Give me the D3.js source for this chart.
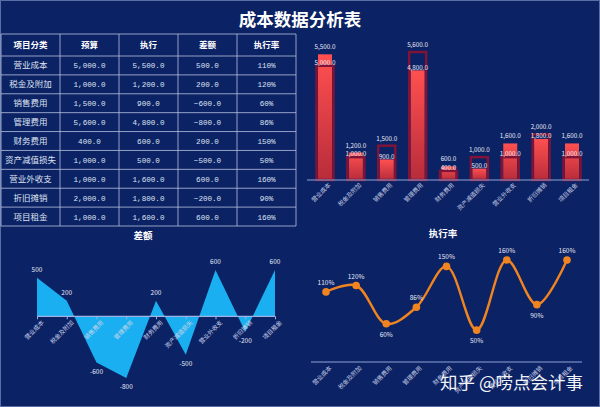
<!DOCTYPE html>
<html><head><meta charset="utf-8">
<script src="https://cdn.jsdelivr.net/npm/d3@7"></script>
<style>body{margin:0;background:#0b2264;} svg{display:block}</style>
</head><body>
<svg id="c" width="600" height="407"></svg>
<script>
const categories = ["营业成本","税金及附加","销售费用","管理费用","财务费用","资产减值损失","营业外收支","折旧摊销","项目租金"];
const budget = [5000,1000,1500,5600,400,1000,1000,2000,1000];
const actual = [5500,1200,900,4800,600,500,1600,1800,1600];
const diff = [500,200,-600,-800,200,-500,600,-200,600];
const rate = [110,120,60,86,150,50,160,90,160];
const headers = ["项目分类","预算","执行","差额","执行率"];
const titleMain = "成本数据分析表";
const titleDiff = "差额";
const titleRate = "执行率";
const watermark = "知乎 @唠点会计事";

const svg = d3.select("#c");
const CJK = "'Noto Sans CJK SC','Noto Sans',sans-serif";
const MONO = "'Liberation Mono','DejaVu Sans Mono',monospace";
const lineCol = "#b9c2de";

svg.append("rect").attr("width",600).attr("height",407).attr("fill","#0b2264");
svg.append("rect").attr("x",0.5).attr("y",0.5).attr("width",599).attr("height",406)
  .attr("fill","none").attr("stroke","#5a6ea6").attr("stroke-width",1);

// Title
svg.append("text").attr("x",300).attr("y",26).attr("text-anchor","middle")
  .attr("fill","#ffffff").attr("font-family",CJK).attr("font-size",17.5).attr("font-weight",600)
  .text(titleMain);

// ---------- Table ----------
const fmt1 = d3.format(",.1f");
const rows = categories.map((c,i)=>[c, fmt1(budget[i]), fmt1(actual[i]), fmt1(diff[i]), rate[i]+"%"]);
const colX = d3.scaleBand().domain(d3.range(headers.length)).range([1,296]);
const rowY = d3.scaleBand().domain(d3.range(rows.length)).range([56,226]);
const tTop = 34, hBot = 56;
const tg = svg.append("g");
const hLines = [tTop, hBot].concat(d3.range(rows.length).map(i=>rowY(i)+rowY.bandwidth()));
tg.selectAll("line.h").data(hLines).join("line")
  .attr("x1",1).attr("x2",296).attr("y1",d=>d).attr("y2",d=>d)
  .attr("stroke",lineCol).attr("stroke-width",0.8);
const vLines = d3.range(headers.length+1).map(i=> i<headers.length? colX(i): 296);
tg.selectAll("line.v").data(vLines).join("line")
  .attr("y1",tTop).attr("y2",226).attr("x1",d=>d).attr("x2",d=>d)
  .attr("stroke",lineCol).attr("stroke-width",0.8);
tg.selectAll("text.hd").data(headers).join("text")
  .attr("x",(d,i)=>colX(i)+colX.bandwidth()/2).attr("y",(tTop+hBot)/2+3)
  .attr("text-anchor","middle").attr("fill","#ffffff").attr("font-family",CJK)
  .attr("font-size",8.5).attr("font-weight",700).text(d=>d);
rows.forEach((r,ri)=>{
  tg.selectAll("text.r"+ri).data(r).join("text")
    .attr("x",(d,i)=>colX(i)+colX.bandwidth()/2)
    .attr("y",rowY(ri)+rowY.bandwidth()/2+3)
    .attr("text-anchor","middle").attr("fill","#dfe3f2")
    .attr("font-family",(d,i)=> i===0?CJK:MONO)
    .attr("font-size",(d,i)=> i===0?8.5:7.6).text(d=>d);
});

// ---------- Bar chart ----------
const bx = d3.scalePoint().domain(categories).range([325,572]);
const by = d3.scaleLinear().domain([0,6000]).range([180,42.9]);
const defs = svg.append("defs");
const grad = defs.append("linearGradient").attr("id","rg").attr("x1",0).attr("y1",0).attr("x2",0).attr("y2",1);
grad.append("stop").attr("offset","0%").attr("stop-color","#ff5050");
grad.append("stop").attr("offset","100%").attr("stop-color","#b82c3a");
const bg = svg.append("g");
const wA = 14, wB = 17;
bg.selectAll("rect.a").data(categories).join("rect")
  .attr("x",d=>bx(d)-wA/2).attr("width",wA)
  .attr("y",(d,i)=>by(actual[i])).attr("height",(d,i)=>by(0)-by(actual[i]))
  .attr("fill","url(#rg)");
bg.selectAll("rect.b").data(categories).join("rect")
  .attr("x",d=>bx(d)-wB/2).attr("width",wB)
  .attr("y",(d,i)=>by(budget[i])).attr("height",(d,i)=>by(0)-by(budget[i]))
  .attr("fill","none").attr("stroke","#801438").attr("stroke-width",2.5);
const bAxis = bg.append("g").attr("transform","translate(0,180)")
  .call(d3.axisBottom(bx).tickSize(0).tickPadding(3));
bAxis.select(".domain").attr("d","M307,0H589").attr("stroke","#8fa3d6").attr("stroke-width",1.2);
bAxis.selectAll("text").attr("font-family",CJK).attr("font-size",6).attr("fill","#c9cfe6")
  .attr("text-anchor","end").attr("transform","translate(2,2) rotate(-45)").attr("dy","0.3em");
const labOff = (v, other) => v >= other ? 5 : 0.8;
bg.selectAll("text.lb").data(categories).join("text")
  .attr("x",d=>bx(d)).attr("y",(d,i)=>by(budget[i])-labOff(budget[i],actual[i]))
  .attr("text-anchor","middle").attr("fill","#e6e9f5").attr("font-family",CJK).attr("font-size",6.3)
  .text((d,i)=>fmt1(budget[i]));
bg.selectAll("text.la").data(categories).join("text")
  .attr("x",d=>bx(d)).attr("y",(d,i)=>by(actual[i])-labOff(actual[i],budget[i]))
  .attr("text-anchor","middle").attr("fill","#e6e9f5").attr("font-family",CJK).attr("font-size",6.3)
  .text((d,i)=>fmt1(actual[i]));

// ---------- Area chart ----------
const ax = d3.scalePoint().domain(categories).range([37,275]);
const ay = d3.scaleLinear().domain([-800,600]).range([378,270]);
const ag = svg.append("g");
ag.append("text").attr("x",143).attr("y",239).attr("text-anchor","middle").attr("fill","#fff")
  .attr("font-family",CJK).attr("font-size",9.5).attr("font-weight",700).text(titleDiff);
const area = d3.area().x((d,i)=>ax(categories[i])).y0(ay(0)).y1(d=>ay(d));
ag.append("path").datum(diff).attr("d",area).attr("fill","#19aff0");
const aAxis = ag.append("g").attr("transform",`translate(0,${ay(0)})`)
  .call(d3.axisBottom(ax).tickSize(3).tickPadding(2));
aAxis.select(".domain").attr("d","M37,0H275").attr("stroke","#9fb4e6").attr("stroke-width",1.2);
aAxis.selectAll(".tick line").attr("stroke","#9fb4e6");
aAxis.selectAll("text").attr("font-family",CJK).attr("font-size",6).attr("fill","#d0d6ee")
  .attr("text-anchor","end").attr("transform","translate(2,2) rotate(-45)").attr("dy","0.3em");
ag.selectAll("text.v").data(diff).join("text")
  .attr("x",(d,i)=>ax(categories[i])).attr("y",d=> d>=0? ay(d)-6 : ay(d)+11)
  .attr("text-anchor","middle").attr("fill","#e6e9f5").attr("font-family",CJK).attr("font-size",6.5)
  .text(d=>d);

// ---------- Line chart ----------
const lx = d3.scalePoint().domain(categories).range([326,567]);
const ly = d3.scaleLinear().domain([0,160]).range([362,260]);
const lg = svg.append("g");
lg.append("text").attr("x",443).attr("y",237).attr("text-anchor","middle").attr("fill","#fff")
  .attr("font-family",CJK).attr("font-size",9.5).attr("font-weight",700).text(titleRate);
const lAxis = lg.append("g").attr("transform","translate(0,362)")
  .call(d3.axisBottom(lx).tickSize(0).tickPadding(3));
lAxis.select(".domain").attr("d","M311,0H582").attr("stroke","#8fa3d6").attr("stroke-width",1.2);
lAxis.selectAll("text").attr("font-family",CJK).attr("font-size",6).attr("fill","#c9cfe6")
  .attr("text-anchor","end").attr("transform","translate(2,3) rotate(-45)").attr("dy","0.3em");
const line = d3.line().x((d,i)=>lx(categories[i])).y(d=>ly(d)).curve(d3.curveCatmullRom.alpha(0.5));
lg.append("path").datum(rate).attr("d",line).attr("fill","none").attr("stroke","#f08420").attr("stroke-width",2.4);
lg.selectAll("circle").data(rate).join("circle")
  .attr("cx",(d,i)=>lx(categories[i])).attr("cy",d=>ly(d)).attr("r",3.8).attr("fill","#f08420");
const isMin = (i)=> (i>0 && i<rate.length-1 && rate[i]<rate[i-1] && rate[i]<rate[i+1]);
lg.selectAll("text.v").data(rate).join("text")
  .attr("x",(d,i)=>lx(categories[i])).attr("y",(d,i)=> isMin(i)? ly(d)+13 : ly(d)-7)
  .attr("text-anchor","middle").attr("fill","#e6e9f5").attr("font-family",CJK).attr("font-size",6.5)
  .text(d=>d+"%");

// watermark
svg.append("text").attr("x",440).attr("y",389).attr("fill","#ffffff").attr("opacity",0.95)
  .attr("font-family",CJK).attr("font-size",17.5).text(watermark);
</script>
</body></html>
